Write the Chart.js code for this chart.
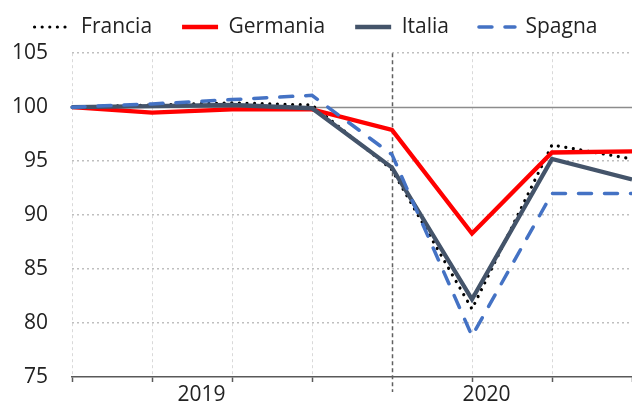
<!DOCTYPE html>
<html>
<head>
<meta charset="utf-8">
<script src="https://cdn.jsdelivr.net/npm/chart.js@4.4.1/dist/chart.umd.min.js"></script>
<style>
  html, body { margin: 0; padding: 0; background: #fff; }
  #wrap { width: 632px; height: 403px; }
</style>
</head>
<body>
<div id="wrap"><canvas id="chart"></canvas></div>
<script>
// trimestri 2019-2020, indice = 100 al primo trimestre
const quarters = ['2019 T1', '2019 T2', '2019 T3', '2019 T4', '2020 T1', '2020 T2', '2020 T3', '2020 T4'];
const francia  = [100, 100.2, 100.4, 100.2, 94.2, 81.3, 96.5, 95.2];
const germania = [100, 99.5, 99.8, 99.8, 97.9, 88.3, 95.8, 95.9];
const italia   = [100, 100.1, 100.2, 99.9, 94.4, 82.2, 95.2, 93.3];
const spagna   = [100, 100.3, 100.7, 101.1, 95.6, 78.8, 92.0, 92.0];
const yearLabels = ['2019', '2020'];
const yearTicks = [1.62, 5.18];
const yTicks = [75, 80, 85, 90, 95, 100, 105];

const font = { family: "'Open Sans', sans-serif", size: 21 };
const pts = arr => arr.map((v, i) => ({ x: i, y: v }));

// linea a 100 e separatore tra 2019 e 2020
const refLines = {
  id: 'refLines',
  beforeDatasetsDraw(chart) {
    const { ctx, chartArea: { left, right, top, bottom }, scales: { x, y } } = chart;
    ctx.save();
    const y100 = Math.round(y.getPixelForValue(100)) + 0.5;
    ctx.strokeStyle = '#8c8c8c';
    ctx.lineWidth = 1.5;
    ctx.beginPath();
    ctx.moveTo(left, y100);
    ctx.lineTo(right, y100);
    ctx.stroke();
    const x20 = Math.round(x.getPixelForValue(4)) + 0.5;
    ctx.strokeStyle = '#606060';
    ctx.setLineDash([4, 3]);
    ctx.beginPath();
    ctx.moveTo(x20, top);
    ctx.lineTo(x20, bottom + 15);
    ctx.stroke();
    ctx.restore();
  }
};

new Chart(document.getElementById('chart'), {
  type: 'line',
  data: {
    labels: quarters,
    datasets: [
      { label: 'Francia', data: pts(francia), borderColor: '#000000', backgroundColor: '#000000',
        borderWidth: 3.2, borderDash: [0.01, 7.6], borderCapStyle: 'round', order: 3 },
      { label: 'Germania', data: pts(germania), borderColor: '#ff0000', backgroundColor: '#ff0000',
        borderWidth: 4.3, order: 2 },
      { label: 'Italia', data: pts(italia), borderColor: '#44546a', backgroundColor: '#44546a',
        borderWidth: 4.3, order: 1 },
      { label: 'Spagna', data: pts(spagna), borderColor: '#4472c4', backgroundColor: '#4472c4',
        borderWidth: 3.5, borderDash: [13, 13], borderCapStyle: 'round', order: 0 }
    ]
  },
  options: {
    responsive: true,
    maintainAspectRatio: false,
    animation: false,
    devicePixelRatio: 1,
    events: [],
    elements: { point: { radius: 0 }, line: { tension: 0 } },
    layout: { padding: { top: -13.5, left: 0, right: 0, bottom: 0 } },
    plugins: {
      tooltip: { enabled: false },
      legend: {
        position: 'top',
        labels: {
          usePointStyle: true,
          pointStyle: 'line',
          pointStyleWidth: 36,
          padding: 30,
          color: '#222',
          font,
          sort: (a, b) => a.datasetIndex - b.datasetIndex,
          generateLabels: chart => {
            const items = Chart.defaults.plugins.legend.labels.generateLabels(chart);
            items.forEach(it => {
              const ds = chart.data.datasets[it.datasetIndex];
              it.lineDash = ds.borderDash || [];
              it.lineCap = ds.borderCapStyle || 'butt';
              it.lineWidth = ds.borderWidth;
              it.strokeStyle = ds.borderColor;
            });
            return items;
          }
        }
      }
    },
    scales: {
      pad: {
        type: 'linear', position: 'top', weight: 0,
        grid: { display: false, drawTicks: false },
        border: { display: false },
        ticks: { display: false },
        afterFit: s => { s.height = 5.7; }
      },
      x: {
        type: 'linear', min: 0, max: 7, weight: 0,
        ticks: { display: false, stepSize: 1 },
        grid: {
          color: c => (c.tick && (c.tick.value === 4 || c.tick.value === 7)) ? 'rgba(0,0,0,0)' : '#d9d9d9',
          lineWidth: 1,
          tickLength: 5,
          tickWidth: 1.5,
          tickColor: c => (c.tick && c.tick.value === 4) ? 'rgba(0,0,0,0)' : '#595959',
          tickBorderDash: []
        },
        border: { display: true, color: '#595959', width: 1.5, dash: [3, 3] },
        afterFit: s => { s.height = 5; }
      },
      year: {
        type: 'linear', position: 'bottom', min: 0, max: 7, weight: 1,
        grid: { display: false, drawTicks: false },
        border: { display: false },
        afterBuildTicks: s => { s.ticks = yearTicks.map(v => ({ value: v })); },
        ticks: {
          autoSkip: false, maxRotation: 0, padding: 0, color: '#222', font,
          callback: (v, i) => yearLabels[i]
        },
        afterFit: s => { s.height = 21; }
      },
      y: {
        min: 75, max: 105,
        afterBuildTicks: s => { s.ticks = yTicks.map(v => ({ value: v })); },
        ticks: { padding: 0, color: '#222', font },
        grid: {
          color: c => (c.tick && (c.tick.value === 100 || c.tick.value === 75)) ? 'rgba(0,0,0,0)' : '#bfbfbf',
          lineWidth: 1.5,
          drawTicks: true,
          tickLength: 24,
          tickColor: 'rgba(0,0,0,0)'
        },
        border: { display: false, dash: [2, 3] },
        afterFit: s => { s.width = 72; }
      }
    }
  },
  plugins: [refLines]
});
</script>
</body>
</html>
